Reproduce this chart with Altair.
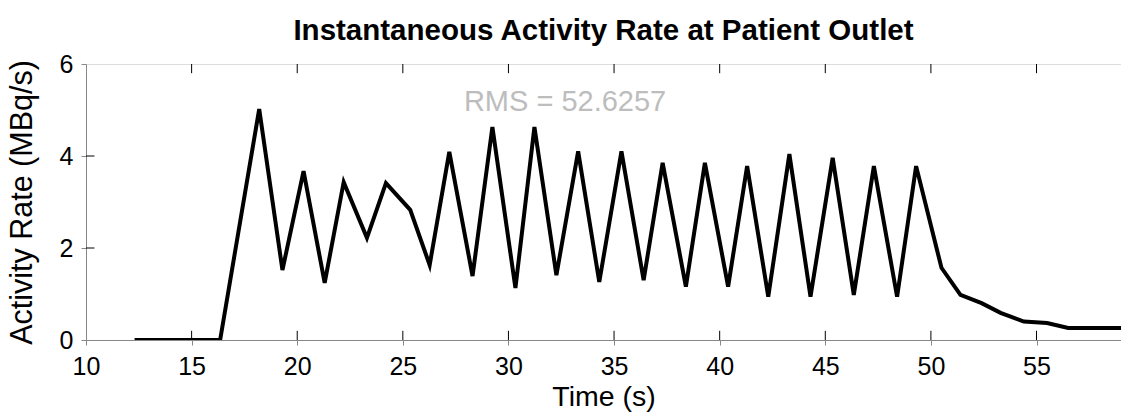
import altair as alt
import pandas as pd

time_s = [12.3, 16.35, 18.2, 19.3, 20.3, 21.3, 22.2, 23.3, 24.2,
          25.35, 26.27, 27.2, 28.3, 29.24, 30.33, 31.23, 32.27, 33.3, 34.3,
          35.35, 36.4, 37.3, 38.4, 39.3, 40.4, 41.3, 42.3,
          43.3, 44.3, 45.35, 46.35, 47.3, 48.4, 49.3,
          50.5, 51.4, 52.4, 53.3, 54.4, 55.5, 56.5, 59.0]
activity = [0, 0, 5.02, 1.52, 3.67, 1.24, 3.43, 2.22, 3.41,
            2.83, 1.63, 4.09, 1.39, 4.63, 1.13, 4.63, 1.41, 4.1, 1.26,
            4.1, 1.3, 3.85, 1.16, 3.85, 1.16, 3.78, 0.94,
            4.04, 0.94, 3.96, 0.98, 3.78, 0.94, 3.78,
            1.57, 0.98, 0.8, 0.59, 0.4, 0.37, 0.26, 0.26]

x_ticks = [15, 20, 25, 30, 35, 40, 45, 50, 55]
x_labels = [10, 15, 20, 25, 30, 35, 40, 45, 50, 55]
y_ticks = [2, 4]
y_labels = [0, 2, 4, 6]
rms_text = ["RMS = 52.6257"]
rms_pos = [32.68, 5.17]

X_DOMAIN = [10, 59]
Y_DOMAIN = [0, 6]
FONT = "Liberation Sans"

df = pd.DataFrame({"t": time_s, "a": activity})

xs = alt.Scale(domain=X_DOMAIN, nice=False, zero=False)
ys = alt.Scale(domain=Y_DOMAIN, nice=False)
x_axis = alt.Axis(title="Time (s)", values=x_labels, labelFontSize=25, titleFontSize=28.5,
                  labelPadding=9, titlePadding=3, titleFontWeight="normal",
                  labelFlush=False, grid=False)
y_axis = alt.Axis(title="Activity Rate (MBq/s)", values=y_labels, labelFontSize=25,
                  titleFontSize=30.5, labelPadding=8, titlePadding=22, titleFontWeight="normal",
                  labelFlush=False, grid=False)
X_ENC = alt.X("t:Q", scale=xs, axis=x_axis)
Y_ENC = alt.Y("a:Q", scale=ys, axis=y_axis)

line = alt.Chart(df).mark_line(color="black", strokeWidth=4, clip=True, strokeJoin="miter").encode(
    x=X_ENC, y=Y_ENC)

# inward tick marks (bottom, top, left), built from the tick lists
tick_len_y = 0.2   # in y data units
tick_len_x = 0.4   # in x data units
xt = pd.DataFrame({
    "t": x_ticks + x_ticks,
    "a": [Y_DOMAIN[0]] * len(x_ticks) + [Y_DOMAIN[1]] * len(x_ticks),
    "a2": [Y_DOMAIN[0] + tick_len_y] * len(x_ticks) + [Y_DOMAIN[1] - tick_len_y] * len(x_ticks),
})
x_tick_marks = alt.Chart(xt).mark_rule(color="black", strokeWidth=1).encode(
    x=X_ENC, y=Y_ENC, y2="a2:Q")
yt = pd.DataFrame({
    "a": y_ticks,
    "t": [X_DOMAIN[0]] * len(y_ticks),
    "t2": [X_DOMAIN[0] + tick_len_x] * len(y_ticks),
})
y_tick_marks = alt.Chart(yt).mark_rule(color="black", strokeWidth=1).encode(
    x=X_ENC, x2="t2:Q", y=Y_ENC)

rms = alt.Chart(pd.DataFrame({"t": [rms_pos[0]], "a": [rms_pos[1]], "label": rms_text})).mark_text(
    font=FONT, fontSize=29, color="#bdbdbd", align="center", baseline="middle"
).encode(x=X_ENC, y=Y_ENC, text="label:N")

chart = alt.layer(line, x_tick_marks, y_tick_marks, rms).properties(
    width=1035, height=276,
    padding={"left": 86, "top": 64, "right": 0, "bottom": 73},
    autosize=alt.AutoSizeParams(type="none"),
    title=alt.TitleParams("Instantaneous Activity Rate at Patient Outlet", font=FONT, fontSize=29.5,
                          fontWeight="bold", anchor="middle", offset=6, color="black"),
).configure_axis(
    ticks=False, domain=False, grid=False, labelFont=FONT, titleFont=FONT,
    labelColor="black", titleColor="black",
).configure_view(stroke="#333333", strokeWidth=1.5).configure(background="white")

chart.save("out.html", embed_options={"renderer": "svg", "actions": False})
